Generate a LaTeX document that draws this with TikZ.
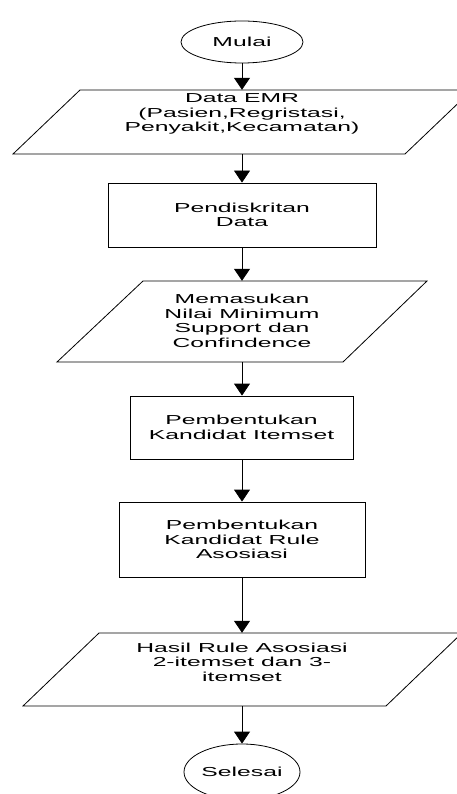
\documentclass[tikz,border=0pt]{standalone}
\usepackage{fontspec}
\setmainfont[FakeStretch=1.9]{Liberation Sans}
\usetikzlibrary{arrows.meta,shapes.geometric}
\begin{document}
\begin{tikzpicture}[x=1pt,y=-1pt,
  every node/.style={font=\fontsize{13}{14.5}\selectfont, align=center},
  line/.style={draw=black, line width=0.8pt},
  terminal/.style={line, ellipse, inner sep=0pt},
  process/.style={line, rectangle, inner sep=0pt},
  frame/.style={rectangle, inner sep=0pt, minimum width=4pt},
  flow/.style={line, -{Triangle[width=16pt,length=12pt]}}]
\useasboundingbox (0,0) rectangle (457,794);
\clip (0,0) rectangle (457,794);

% terminals and processes
\node[terminal, minimum width=122pt, minimum height=42pt] (mulai) at (242,42) {Mulai};
\node[process, minimum width=268pt, minimum height=64pt] (disk) at (242,215) {Pendiskritan\\Data};
\node[process, minimum width=223pt, minimum height=63pt] (item) at (241.5,427.5) {Pembentukan\\Kandidat Itemset};
\node[process, minimum width=246pt, minimum height=75pt] (rule) at (242,539.5) {Pembentukan\\Kandidat Rule\\Asosiasi};
\node[terminal, minimum width=116pt, minimum height=56pt] (selesai) at (242,772) {Selesai};

% input/output blocks: outline, frame for the connectors, text
\draw[line] (80,90) -- (472,90) -- (405,154) -- (13,154) -- cycle;
\node[frame, minimum height=64pt] (emr) at (242,122) {};
\node (emrtext) at (242,114) {Data EMR\\(Pasien,Regristasi,\\Penyakit,Kecamatan)};

\draw[line] (143,281) -- (427,281) -- (343,362) -- (57,362) -- cycle;
\node[frame, minimum height=81pt] (minsup) at (242,321.5) {};
\node (minsuptext) at (242,321) {Memasukan\\Nilai Minimum\\Support dan\\Confindence};

\draw[line] (99,633) -- (462,633) -- (386,706) -- (23,706) -- cycle;
\node[frame, minimum height=73pt] (hasil) at (242,669.5) {};
\node (hasiltext) at (242,662) {Hasil Rule Asosiasi\\2-itemset dan 3-\\itemset};

% connectors
\draw[flow] (mulai.south) -- (emr.north);
\draw[flow] (emr.south) -- (disk.north);
\draw[flow] (disk.south) -- (minsup.north);
\draw[flow] (minsup.south) -- (item.north -| minsup.south);
\draw[flow] (item.south -| minsup.south) -- (rule.north);
\draw[flow] (rule.south) -- (hasil.north);
\draw[flow] (hasil.south) -- (selesai.north);
\end{tikzpicture}
\end{document}
